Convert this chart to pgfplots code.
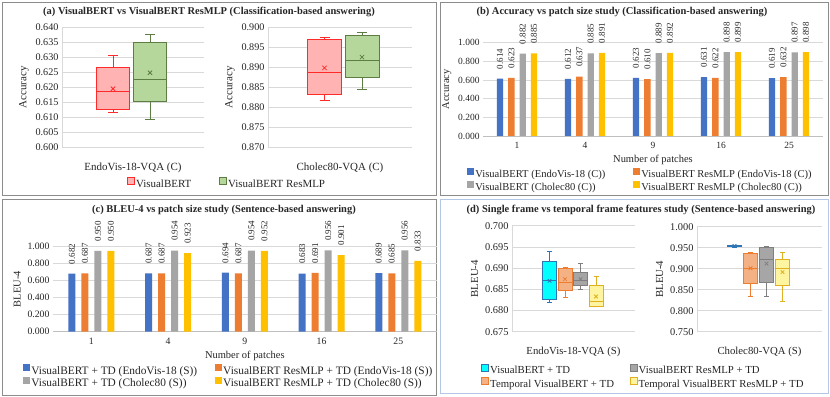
\documentclass[border=0pt]{standalone}
\usepackage{fontspec}
\setmainfont{Liberation Serif}
\usepackage{graphicx}
\usepackage{pgfplots}
\pgfplotsset{compat=1.18}

\definecolor{cBlue}{HTML}{4472C4}
\definecolor{cOrange}{HTML}{ED7D31}
\definecolor{cGray}{HTML}{A5A5A5}
\definecolor{cYellow}{HTML}{FFC000}
\definecolor{gridc}{HTML}{D9D9D9}
\definecolor{axisc}{HTML}{BFBFBF}
\definecolor{framec}{HTML}{8C8C8C}
\definecolor{framed}{HTML}{B4C7E7}
\definecolor{txt}{HTML}{262626}
\definecolor{redE}{HTML}{FF2A2A}
\definecolor{redF}{HTML}{FFB3B3}
\definecolor{grnE}{HTML}{5E7D45}
\definecolor{grnF}{HTML}{B5D79C}
\definecolor{cyanF}{HTML}{00FFFF}
\definecolor{cyanE}{HTML}{2E75B6}
\definecolor{orF}{HTML}{F4B183}
\definecolor{orE}{HTML}{ED7D31}
\definecolor{grF}{HTML}{A6A6A6}
\definecolor{grE}{HTML}{7F7F7F}
\definecolor{yeF}{HTML}{FFF4A0}
\definecolor{yeE}{HTML}{E0B020}

\newcommand\fs[1]{\fontsize{#1}{#1}\selectfont}

% box: centre, low whisker, Q1, median, Q3, high whisker, mean, colour stem
% half box width \boxh and half cap width \caph are set per axis
\newcommand\bx[8]{%
  \pgfmathsetmacro\bxL{#1-\boxh}\pgfmathsetmacro\bxR{#1+\boxh}%
  \pgfmathsetmacro\cpL{#1-\caph}\pgfmathsetmacro\cpR{#1+\caph}%
  \addplot[draw=#8E, fill=#8F, line width=0.9bp, forget plot]
    coordinates {(\bxL,#3) (\bxR,#3) (\bxR,#5) (\bxL,#5)} --cycle;
  \addplot[draw=#8E, line width=0.9bp, forget plot] coordinates {(\bxL,#4) (\bxR,#4)};
  \addplot[draw=#8E, line width=0.9bp, forget plot] coordinates {(#1,#5) (#1,#6)};
  \addplot[draw=#8E, line width=0.9bp, forget plot] coordinates {(#1,#2) (#1,#3)};
  \addplot[draw=#8E, line width=0.9bp, forget plot] coordinates {(\cpL,#6) (\cpR,#6)};
  \addplot[draw=#8E, line width=0.9bp, forget plot] coordinates {(\cpL,#2) (\cpR,#2)};
  \addplot[only marks, mark=x, mark size=\mks, color=#8E, line width=0.8bp, forget plot]
    coordinates {(#1,#7)};
}

\pgfplotsset{
  /pgf/number format/assume math mode=true,
  sqlegend/.style={legend image code/.code={\draw[##1,line width=0.7bp,yshift=0.33em] (0bp,-3.5bp) rectangle (7bp,3.5bp);}},
  sqfill/.style={legend image code/.code={\fill[##1,yshift=0.33em] (0bp,-3.5bp) rectangle (7bp,3.5bp);}},
  base/.style={
    scale only axis, anchor=south west, major tick length=0pt,
    ymajorgrids, grid style={draw=gridc, line width=0.8bp},
    scaled y ticks=false, enlargelimits=false,
    yticklabel style={/pgf/number format/.cd, fixed, fixed zerofill, precision=3},
    tick label style={text=txt}, label style={text=txt},
    legend cell align=left,
    legend style={draw=none, fill=none, text=txt, inner sep=0pt,
      nodes={inner sep=1.5bp}},
    sqlegend,
  },
  boxax/.style={base, axis lines*=left,
    axis line style={draw=gridc, line width=0.8bp}, xtick=\empty, xmin=0,
    xlabel style={at={(axis description cs:0.5,0)}, anchor=center, yshift=-20bp}},
  barax/.style={base, axis lines*=left,
    y axis line style={draw=none}, x axis line style={draw=axisc, line width=0.8bp},
    xmin=-0.5, xmax=4.5, ymin=0, ymax=1,
    ytick={0,0.2,0.4,0.6,0.8,1}, xtick={0,1,2,3,4}, xticklabels={1,4,9,16,25},
    xticklabel style={yshift=-3bp},
    xlabel style={at={(axis description cs:0.5,0)}, anchor=center, yshift=-24bp},
    xlabel={Number of patches},
  },
  barlab/.style={
    nodes near coords={\rotatebox{90}{\pgfmathprintnumber[fixed,fixed zerofill,precision=3]{\pgfplotspointmeta}}},
    every node near coord/.append style={anchor=south, text=txt, font=\fs{9}, inner sep=1bp, yshift=8.5bp},
    every axis plot/.append style={sqfill},
  },
}

\begin{document}
\begin{tikzpicture}
\useasboundingbox (0,0) rectangle (830bp,397bp);
\fill[white] (0,0) rectangle (830bp,397bp);

% frames
\draw[framec, line width=0.9bp] (2.5bp,201.3bp) rectangle (436.7bp,394.5bp);
\draw[framec, line width=0.9bp] (440.7bp,201.3bp) rectangle (828bp,394.5bp);
\draw[framec, line width=0.9bp] (2.5bp,2bp) rectangle (436.7bp,198bp);

\node[font=\bfseries\fs{10.5}, text=txt] at (209bp,385bp) {(a) VisualBERT vs VisualBERT ResMLP (Classification-based answering)};
\node[font=\bfseries\fs{10.5}, text=txt] at (622bp,385bp) {(b) Accuracy vs patch size study (Classification-based answering)};
\node[font=\bfseries\fs{10.5}, text=txt] at (224bp,187bp) {(c) BLEU-4 vs patch size study (Sentence-based answering)};

% ---------- (a) left
\def\boxh{16.5}\def\caph{5}\def\mks{3bp}
\begin{axis}[boxax, at={(62bp,249.5bp)}, width=142bp, height=120bp,
  xmax=142, ymin=0.6, ymax=0.64,
  ytick={0.6,0.605,0.61,0.615,0.62,0.625,0.63,0.635,0.64},
  tick label style={font=\fs{10.2}}, label style={font=\fs{11}},
  ylabel={Accuracy}, xlabel={EndoVis-18-VQA (C)},
  legend columns=2,
  legend style={at={(1.16,-0.304)}, anchor=center, font=\fs{11},
    /tikz/every even column/.append style={column sep=26bp}},
]
\bx{51}{0.6116}{0.6126}{0.6186}{0.6268}{0.6306}{0.6196}{red}
\bx{88}{0.6093}{0.6154}{0.6226}{0.6349}{0.6376}{0.6249}{grn}
\addlegendimage{draw=redE, fill=redF}
\addlegendentry{VisualBERT}
\addlegendimage{draw=grnE, fill=grnF}
\addlegendentry{VisualBERT ResMLP}
\end{axis}

% ---------- (a) right
\def\boxh{17}
\begin{axis}[boxax, at={(268bp,249.5bp)}, width=144bp, height=120bp,
  xmax=144, ymin=0.87, ymax=0.9,
  ytick={0.87,0.875,0.88,0.885,0.89,0.895,0.9},
  tick label style={font=\fs{10.2}}, label style={font=\fs{11}},
  ylabel={Accuracy}, xlabel={Cholec80-VQA (C)},
]
\bx{56.5}{0.8817}{0.8832}{0.8887}{0.8971}{0.8976}{0.8899}{red}
\bx{94}{0.8844}{0.8874}{0.8918}{0.8981}{0.8988}{0.8926}{grn}
\end{axis}

% ---------- (b)
\begin{axis}[barax, at={(483bp,261bp)}, width=340bp, height=93.3bp,
  ybar=5bp, bar width=6.3bp, barlab,
  tick label style={font=\fs{9.5}}, label style={font=\fs{10.5}},
  ylabel={Accuracy},
  legend columns=2,
  legend style={at={(0.462,-0.477)}, anchor=center, font=\fs{10.6},
    /tikz/every even column/.append style={column sep=26bp}},
]
\addplot[fill=cBlue, draw=none] coordinates {(0,0.614) (1,0.612) (2,0.623) (3,0.631) (4,0.619)};
\addlegendentry{VisualBERT (EndoVis-18 (C))}
\addplot[fill=cOrange, draw=none] coordinates {(0,0.623) (1,0.637) (2,0.610) (3,0.622) (4,0.632)};
\addlegendentry{VisualBERT ResMLP (EndoVis-18 (C))}
\addplot[fill=cGray, draw=none] coordinates {(0,0.882) (1,0.885) (2,0.889) (3,0.898) (4,0.897)};
\addlegendentry{VisualBERT (Cholec80 (C))}
\addplot[fill=cYellow, draw=none] coordinates {(0,0.885) (1,0.891) (2,0.892) (3,0.899) (4,0.898)};
\addlegendentry{VisualBERT ResMLP (Cholec80 (C))}
\end{axis}

% ---------- (c)
\begin{axis}[barax, at={(53bp,65.3bp)}, width=383.7bp, height=85bp,
  ybar=6bp, bar width=7bp, barlab,
  tick label style={font=\fs{9.8}}, label style={font=\fs{10.5}},
  ylabel={BLEU-4},
  legend columns=2,
  legend style={at={(0.457,-0.533)}, anchor=center, font=\fs{11.4},
    /tikz/every even column/.append style={column sep=16bp}},
]
\addplot[fill=cBlue, draw=none] coordinates {(0,0.682) (1,0.687) (2,0.694) (3,0.683) (4,0.689)};
\addlegendentry{VisualBERT + TD (EndoVis-18 (S))}
\addplot[fill=cOrange, draw=none] coordinates {(0,0.687) (1,0.687) (2,0.687) (3,0.691) (4,0.685)};
\addlegendentry{VisualBERT ResMLP + TD (EndoVis-18 (S))}
\addplot[fill=cGray, draw=none] coordinates {(0,0.950) (1,0.954) (2,0.954) (3,0.956) (4,0.956)};
\addlegendentry{VisualBERT + TD (Cholec80 (S))}
\addplot[fill=cYellow, draw=none] coordinates {(0,0.950) (1,0.923) (2,0.952) (3,0.901) (4,0.833)};
\addlegendentry{VisualBERT ResMLP + TD (Cholec80 (S))}
\end{axis}

% ---------- (d) frame drawn over the edge of (c)
\filldraw[fill=white, draw=framed, line width=0.9bp] (440.7bp,4bp) rectangle (828bp,198bp);
\node[font=\bfseries\fs{10.5}, text=txt] at (641bp,187bp) {(d) Single frame vs temporal frame features study (Sentence-based answering)};

% ---------- (d) left
\def\boxh{7}\def\caph{2.5}\def\mks{2.5bp}
\begin{axis}[boxax, at={(512bp,65.3bp)}, width=123bp, height=106bp,
  xmax=123, ymin=0.675, ymax=0.7,
  ytick={0.675,0.68,0.685,0.69,0.695,0.7},
  tick label style={font=\fs{10.4}}, label style={font=\fs{10.8}},
  ylabel={BLEU-4}, xlabel={EndoVis-18-VQA (S)},
  legend columns=2,
  legend style={at={(1.065,-0.427)}, anchor=center, font=\fs{10.8},
    /tikz/every even column/.append style={column sep=14bp}},
]
\bx{37.5}{0.682}{0.6825}{0.687}{0.6915}{0.694}{0.687}{cyan}
\bx{53}{0.6831}{0.6847}{0.6866}{0.6900}{0.6902}{0.6874}{or}
\bx{68.5}{0.685}{0.686}{0.687}{0.689}{0.691}{0.6874}{gr}
\bx{84}{0.6809}{0.6809}{0.6822}{0.6858}{0.6881}{0.6833}{ye}
\addlegendimage{draw=cyanE, fill=cyanF}
\addlegendentry{VisualBERT + TD}
\addlegendimage{draw=grE, fill=grF}
\addlegendentry{VisualBERT ResMLP + TD}
\addlegendimage{draw=orE, fill=orF}
\addlegendentry{Temporal VisualBERT + TD}
\addlegendimage{draw=yeE, fill=yeF}
\addlegendentry{Temporal VisualBERT ResMLP + TD}
\end{axis}

% ---------- (d) right
\def\boxh{7.25}
\begin{axis}[boxax, at={(697bp,65.3bp)}, width=125bp, height=105bp,
  xmax=125, ymin=0.75, ymax=1,
  ytick={0.75,0.8,0.85,0.9,0.95,1},
  tick label style={font=\fs{10.4}}, label style={font=\fs{10.8}},
  ylabel={BLEU-4}, xlabel={Cholec80-VQA (S)},
]
\bx{37.5}{0.950}{0.952}{0.954}{0.956}{0.956}{0.954}{cyan}
\bx{53.5}{0.834}{0.866}{0.900}{0.937}{0.938}{0.901}{or}
\bx{69.5}{0.833}{0.867}{0.923}{0.951}{0.952}{0.912}{gr}
\bx{85.5}{0.822}{0.861}{0.901}{0.921}{0.938}{0.892}{ye}
\end{axis}
\end{tikzpicture}
\end{document}
